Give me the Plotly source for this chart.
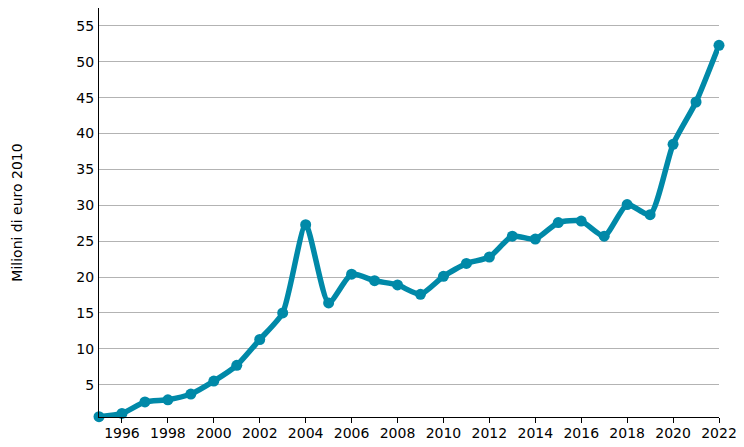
import plotly.graph_objects as go

years = list(range(1995, 2023))
values = [0.55, 1.0, 2.6, 2.9, 3.7, 5.5, 7.7, 11.3, 15.0, 27.3, 16.4, 20.4, 19.5, 18.9,
          17.6, 20.1, 21.9, 22.8, 25.7, 25.3, 27.6, 27.8, 25.7, 30.1, 28.7, 38.5, 44.4, 52.3]
x_ticks = list(range(1996, 2023, 2))
y_ticks = list(range(5, 60, 5))
y_title = "Milioni di euro 2010"

color = "#0089A8"

fig = go.Figure()
fig.add_trace(go.Scatter(
    x=years, y=values, mode="lines+markers",
    line=dict(color=color, width=5.5, shape="spline", smoothing=0.6),
    marker=dict(color=color, size=11),
    cliponaxis=False,
    hoverinfo="x+y",
))

fig.update_layout(
    width=736, height=439,
    margin=dict(l=91, r=25, t=0, b=30, autoexpand=False),
    paper_bgcolor="white", plot_bgcolor="white",
    font=dict(family="DejaVu Sans", size=14, color="black"),
    showlegend=False,
)
fig.update_xaxes(
    range=[1995, 2022], tickvals=x_ticks, ticktext=[str(t) for t in x_ticks],
    showline=True, linecolor="black", linewidth=1,
    ticks="outside", ticklen=5, tickcolor="black", ticklabelstandoff=-2,
    showgrid=False, zeroline=False, automargin=False,
)
fig.update_yaxes(
    range=[0.5, 57.5], tickvals=y_ticks,
    showline=True, linecolor="black", linewidth=1,
    ticks="", ticklabelstandoff=1,
    showgrid=True, gridcolor="#b3b3b3", gridwidth=1, zeroline=False,
    automargin=False,
    title=dict(text=y_title, standoff=50, font=dict(size=14)),
)

fig.write_html("out.html")
